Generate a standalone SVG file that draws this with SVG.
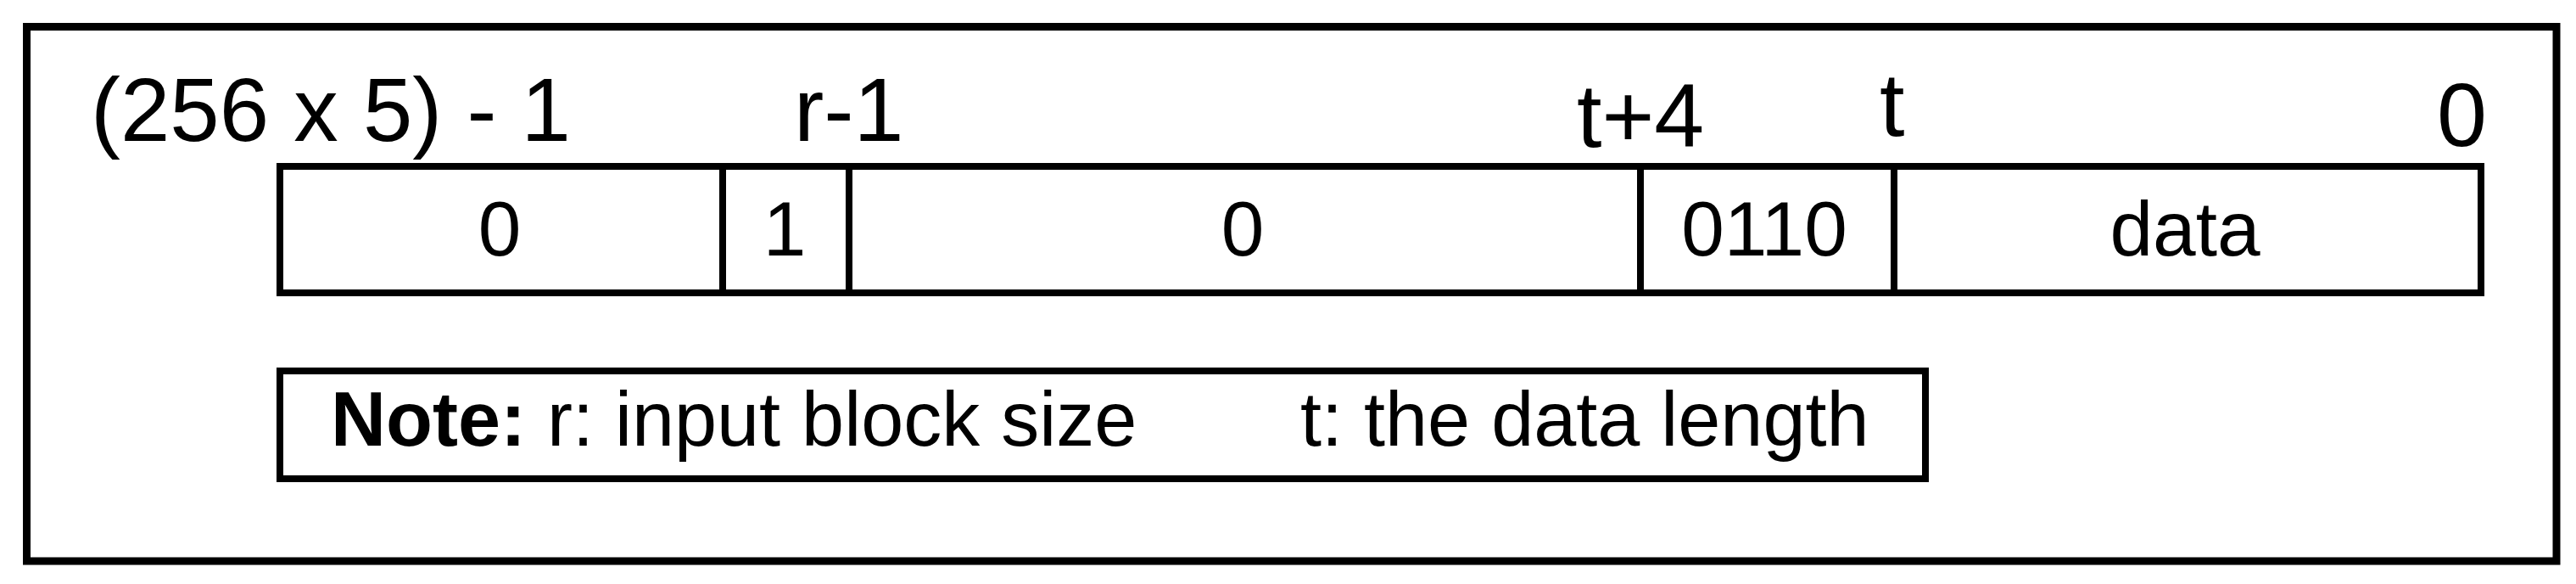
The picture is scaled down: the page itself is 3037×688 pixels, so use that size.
<svg xmlns="http://www.w3.org/2000/svg" width="3037" height="688" viewBox="0 0 3037 688">
<style>
.box{fill:none;stroke:#000;stroke-width:8}
.frame{fill:#fff;stroke:#000;stroke-width:9}
.lbl{font-family:"Liberation Sans",Arial,sans-serif;font-size:106px;fill:#000}
.cell{font-family:"Liberation Sans",Arial,sans-serif;font-size:91px;fill:#000;text-anchor:middle}
.note{font-family:"Liberation Sans",Arial,sans-serif;font-size:90px;fill:#000}
</style>
<rect width="3037" height="688" fill="#fff"/>
<g id="frame">
<rect class="frame" x="31.5" y="31.5" width="2982.5" height="629.5"/>
</g>
<g id="bit-labels">
<text class="lbl" x="107" y="166" font-size="107" textLength="566" lengthAdjust="spacingAndGlyphs">(256 x 5) - 1</text>
<text class="lbl" x="936" y="166">r-1</text>
<text class="lbl" x="1859" y="173" font-size="104">t+4</text>
<text class="lbl" x="2216" y="160">t</text>
<text class="lbl" x="2873" y="172">0</text>
</g>
<g id="cell-pad-high">
<rect class="box" x="330" y="196" width="522" height="149"/>
<text class="cell" x="589" y="301">0</text>
</g>
<g id="cell-one">
<rect class="box" x="852" y="196" width="149" height="149"/>
<text class="cell" x="925" y="301">1</text>
</g>
<g id="cell-pad-low">
<rect class="box" x="1001" y="196" width="933" height="149"/>
<text class="cell" x="1465" y="301">0</text>
</g>
<g id="cell-suffix">
<rect class="box" x="1934" y="196" width="299" height="149"/>
<text class="cell" x="2080" y="301">0110</text>
</g>
<g id="cell-data">
<rect class="box" x="2233" y="196" width="692" height="149"/>
<text class="cell" x="2576" y="301">data</text>
</g>
<g id="note">
<rect class="box" x="330" y="437" width="1940" height="127"/>
<text class="note" x="390" y="525"><tspan font-weight="bold">Note:</tspan> r: input block size</text>
<text class="note" x="1533" y="525">t: the data length</text>
</g>
<g id="connectors"/>
</svg>
